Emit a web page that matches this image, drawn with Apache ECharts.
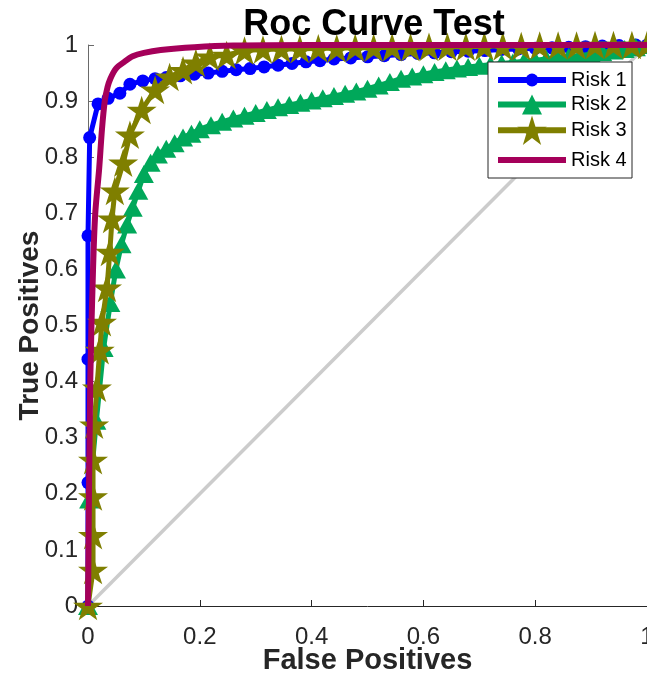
<!DOCTYPE html>
<html>
<head>
<meta charset="utf-8">
<script src="https://cdn.jsdelivr.net/npm/echarts@6/dist/echarts.min.js"></script>
<style>
  html, body { margin: 0; padding: 0; background: #fff; }
  #main { width: 647px; height: 674px; }
</style>
</head>
<body>
<div id="main"></div>
<script>
// ROC curves
const seriesNames = ['Risk 1', 'Risk 2', 'Risk 3', 'Risk 4'];

const risk1X = [0, 0, 0, 0, 0.003, 0.018, 0.036, 0.057, 0.075, 0.098, 0.12, 0.14, 0.165, 0.19, 0.215, 0.24, 0.265, 0.29, 0.315, 0.34, 0.365, 0.39, 0.415, 0.44, 0.47, 0.5, 0.53, 0.56, 0.59, 0.62, 0.65, 0.68, 0.71, 0.74, 0.77, 0.8, 0.83, 0.86, 0.89, 0.92, 0.95, 0.98, 1.0];
const risk1Y = [0, 0.22, 0.44, 0.66, 0.835, 0.895, 0.905, 0.914, 0.93, 0.936, 0.94, 0.942, 0.945, 0.948, 0.95, 0.953, 0.956, 0.958, 0.961, 0.964, 0.967, 0.97, 0.972, 0.975, 0.977, 0.979, 0.981, 0.983, 0.985, 0.986, 0.988, 0.989, 0.99, 0.992, 0.993, 0.994, 0.995, 0.996, 0.997, 0.998, 0.999, 1.0, 1.0];

const risk2X = [0, 0.002, 0.015, 0.028, 0.04, 0.05, 0.06, 0.07, 0.08, 0.09, 0.1, 0.112, 0.125, 0.14, 0.155, 0.17, 0.185, 0.2, 0.22, 0.24, 0.26, 0.28, 0.3, 0.32, 0.34, 0.36, 0.38, 0.4, 0.42, 0.44, 0.46, 0.48, 0.5, 0.52, 0.54, 0.56, 0.58, 0.6, 0.62, 0.64, 0.66, 0.68, 0.7, 0.72, 0.74, 0.76, 0.78, 0.8, 0.82, 0.84, 0.86, 0.88, 0.9, 0.92, 0.94, 0.96, 0.98, 1.0];
const risk2Y = [0, 0.19, 0.33, 0.46, 0.54, 0.6, 0.645, 0.68, 0.71, 0.74, 0.77, 0.79, 0.805, 0.815, 0.825, 0.835, 0.842, 0.85, 0.857, 0.863, 0.869, 0.874, 0.879, 0.884, 0.889, 0.893, 0.897, 0.901, 0.905, 0.909, 0.913, 0.917, 0.922, 0.928, 0.934, 0.94, 0.944, 0.948, 0.952, 0.955, 0.958, 0.961, 0.963, 0.965, 0.967, 0.969, 0.971, 0.973, 0.975, 0.977, 0.979, 0.981, 0.984, 0.987, 0.99, 0.993, 0.996, 1.0];

const risk3X = [0, 0.009, 0.009, 0.009, 0.009, 0.011, 0.016, 0.021, 0.025, 0.034, 0.039, 0.043, 0.048, 0.063, 0.075, 0.096, 0.12, 0.146, 0.17, 0.193, 0.218, 0.248, 0.28, 0.313, 0.346, 0.379, 0.412, 0.445, 0.478, 0.511, 0.544, 0.577, 0.61, 0.643, 0.676, 0.709, 0.742, 0.775, 0.808, 0.841, 0.874, 0.907, 0.94, 0.973, 1.0];
const risk3Y = [0, 0.064, 0.126, 0.195, 0.26, 0.323, 0.389, 0.456, 0.506, 0.567, 0.631, 0.69, 0.74, 0.79, 0.84, 0.884, 0.92, 0.943, 0.955, 0.968, 0.979, 0.982, 0.99, 0.992, 0.993, 0.993, 0.994, 0.994, 0.995, 0.995, 0.996, 0.996, 0.997, 0.997, 0.997, 0.998, 0.998, 0.998, 0.999, 0.999, 0.999, 1.0, 1.0, 1.0, 1.0];

const risk4X = [0, 0.004, 0.009, 0.013, 0.02, 0.025, 0.03, 0.035, 0.04, 0.05, 0.065, 0.08, 0.1, 0.13, 0.19, 0.26, 0.4, 1.0];
const risk4Y = [0, 0.4, 0.6, 0.7, 0.78, 0.85, 0.9, 0.925, 0.94, 0.958, 0.97, 0.98, 0.986, 0.991, 0.996, 0.999, 1.0, 1.0];

const chanceX = [0, 1];
const chanceY = [0, 1];

const xTicks = [0, 0.2, 0.4, 0.6, 0.8, 1];
const yTicks = [0, 0.1, 0.2, 0.3, 0.4, 0.5, 0.6, 0.7, 0.8, 0.9, 1];

const colors = ['#0000FF', '#00A85A', '#7F7F00', '#A5005A'];
const starPath = 'path://M100,0L122.45,69.1L195.11,69.1L136.33,111.8L158.78,180.9L100,138.2L41.22,180.9L63.67,111.8L4.89,69.1L77.55,69.1Z';
const FONT = "'Liberation Sans', Arial, Helvetica, sans-serif";
const AXIS_COLOR = '#262626';

function pairs(xs, ys) {
  return xs.map((x, i) => [x, ys[i]]);
}

// one legend per entry so each marker can keep its own size
function legendRow(name, centerY, itemHeight, hideSymbol) {
  const boxH = Math.max(itemHeight, 20);
  return {
    data: [hideSymbol ? { name: name, itemStyle: { opacity: 0 } } : name],
    orient: 'vertical',
    left: 495,
    top: centerY - boxH / 2,
    padding: 0,
    itemWidth: 68,
    itemHeight: itemHeight,
    lineStyle: { width: 6 },
    selectedMode: false,
    z: 20,
    textStyle: { fontFamily: FONT, fontSize: 20, color: '#000' }
  };
}

const chart = echarts.init(document.getElementById('main'), null, { renderer: 'canvas' });

const option = {
  animation: false,
  backgroundColor: '#fff',
  title: {
    text: 'Roc Curve Test',
    left: 369,
    textAlign: 'center',
    top: 2,
    textStyle: { fontFamily: FONT, fontSize: 36, fontWeight: 'bold', color: '#000' }
  },
  graphic: {
    elements: [{
      type: 'rect',
      z: 19,
      shape: { x: 488, y: 62, width: 144, height: 116 },
      style: { fill: '#fff', stroke: AXIS_COLOR, lineWidth: 1 }
    }]
  },
  legend: [
    legendRow(seriesNames[0], 80, 16, false),
    legendRow(seriesNames[1], 107, 25, false),
    legendRow(seriesNames[2], 134, 37, false),
    legendRow(seriesNames[3], 161, 22, true)
  ],
  grid: { left: 88, right: 0, top: 45, bottom: 68, containLabel: false, outerBoundsMode: 'none' },
  xAxis: {
    type: 'value',
    min: 0, max: 1, interval: 0.2,
    name: 'False Positives',
    nameLocation: 'middle',
    nameGap: 40,
    nameMoveOverlap: false,
    nameTextStyle: { fontFamily: FONT, fontSize: 29, fontWeight: 'bold', color: AXIS_COLOR },
    axisLine: { show: true, lineStyle: { color: AXIS_COLOR, width: 1 } },
    axisTick: { show: true, inside: true, length: 6, lineStyle: { color: AXIS_COLOR } },
    axisLabel: {
      margin: 19, fontFamily: FONT, fontSize: 24, color: AXIS_COLOR,
      formatter: v => String(xTicks.find(t => Math.abs(t - v) < 1e-9) ?? v)
    },
    splitLine: { show: false }
  },
  yAxis: {
    type: 'value',
    min: 0, max: 1, interval: 0.1,
    name: 'True Positives',
    nameLocation: 'middle',
    nameGap: 44,
    nameMoveOverlap: false,
    nameTextStyle: { fontFamily: FONT, fontSize: 28, fontWeight: 'bold', color: AXIS_COLOR },
    axisLine: { show: true, lineStyle: { color: '#6a6a6a', width: 1 } },
    axisTick: { show: true, inside: true, length: 6, lineStyle: { color: '#6a6a6a' } },
    axisLabel: {
      margin: 10, fontFamily: FONT, fontSize: 24, color: AXIS_COLOR,
      formatter: v => String(yTicks.find(t => Math.abs(t - v) < 1e-9) ?? v)
    },
    splitLine: { show: false }
  },
  series: [
    {
      name: 'chance',
      type: 'line',
      data: pairs(chanceX, chanceY),
      symbol: 'none',
      silent: true,
      lineStyle: { color: '#CCCCCC', width: 3.5 },
      z: 1
    },
    {
      name: seriesNames[0],
      type: 'line',
      data: pairs(risk1X, risk1Y),
      symbol: 'circle',
      symbolSize: 13,
      showAllSymbol: true,
      clip: false,
      color: colors[0],
      itemStyle: { color: colors[0] },
      lineStyle: { color: colors[0], width: 5 },
      z: 2
    },
    {
      name: seriesNames[1],
      type: 'line',
      data: pairs(risk2X, risk2Y),
      symbol: 'triangle',
      symbolSize: [20, 18],
      showAllSymbol: true,
      clip: false,
      color: colors[1],
      itemStyle: { color: colors[1] },
      lineStyle: { color: colors[1], width: 5 },
      z: 3
    },
    {
      name: seriesNames[2],
      type: 'line',
      data: pairs(risk3X, risk3Y),
      symbol: starPath,
      symbolSize: 30,
      symbolKeepAspect: true,
      showAllSymbol: true,
      clip: false,
      color: colors[2],
      itemStyle: { color: colors[2] },
      lineStyle: { color: colors[2], width: 5 },
      z: 4
    },
    {
      name: seriesNames[3],
      type: 'line',
      data: pairs(risk4X, risk4Y),
      symbol: 'none',
      smooth: 0.3,
      clip: false,
      color: colors[3],
      itemStyle: { color: colors[3] },
      lineStyle: { color: colors[3], width: 6 },
      z: 5
    }
  ]
};

chart.setOption(option);
</script>
</body>
</html>
